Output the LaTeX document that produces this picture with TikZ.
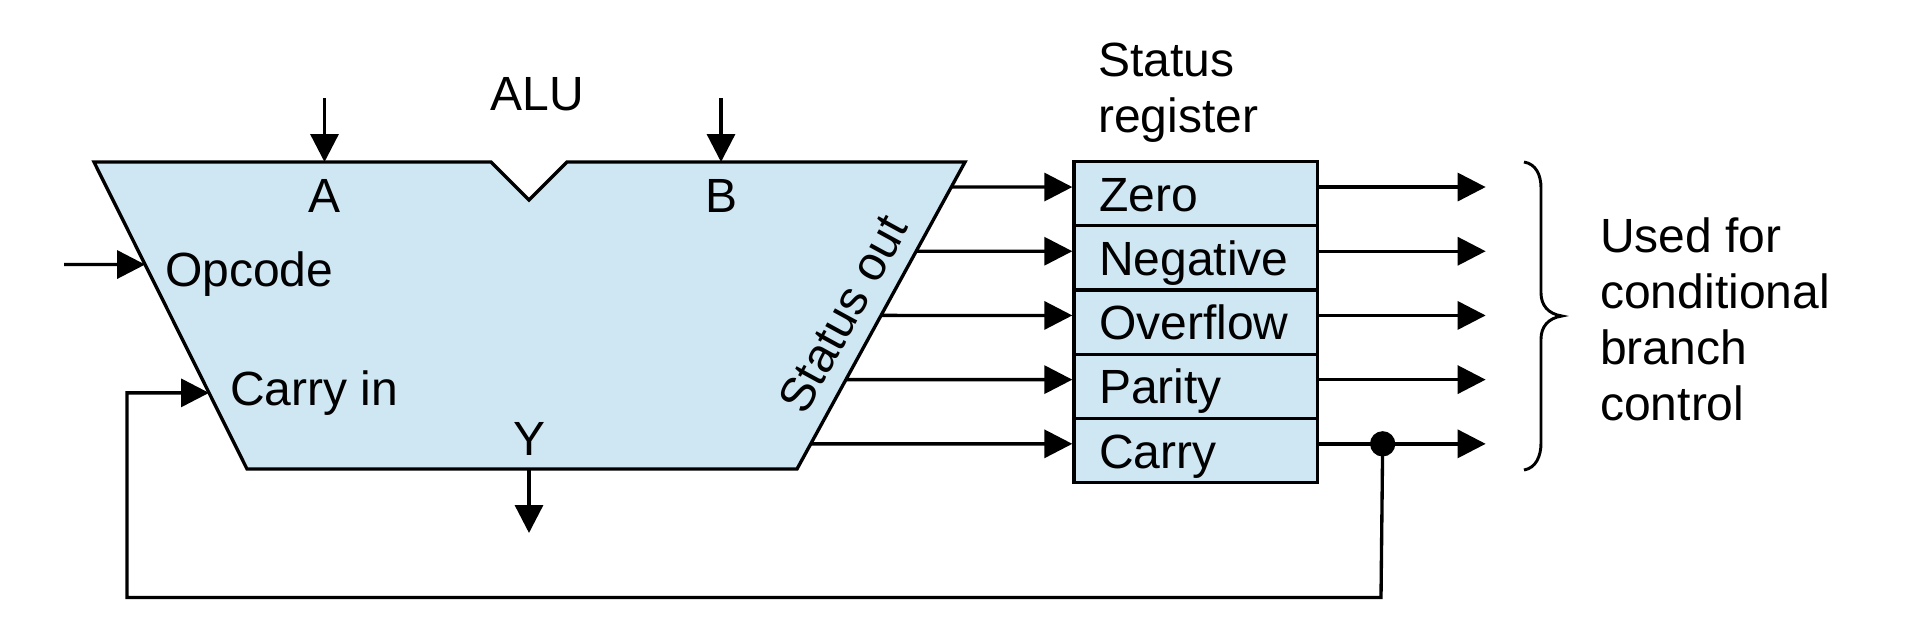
\documentclass[tikz,border=0pt]{standalone}
\usepackage{fontspec}
\setmainfont{Liberation Sans}
\usetikzlibrary{arrows.meta,calc}
\definecolor{alufill}{RGB}{207,230,243}
\begin{document}
\begin{tikzpicture}[x=0.75pt,y=-0.75pt,
  wire/.style={line width=2.5pt},
  sig/.style={wire,-{Triangle[length=21pt,width=21pt]}},
  lbl/.style={font=\fontsize{36pt}{42pt}\selectfont, inner sep=0pt},
  regcell/.style={draw, line width=2.5pt, fill=alufill,
    minimum width=182.7pt, minimum height=48.15pt,
    inner xsep=18.75pt, inner ysep=0pt, text width=145.2pt, align=left,
    text height=26.3pt, text depth=0pt,
    font=\fontsize{36pt}{42pt}\selectfont},
  dotnode/.style={circle, fill=black, inner sep=0pt, minimum size=19pt}
]
\useasboundingbox (0,0) rectangle (1920,640);

% ALU outline with the notch between the two operand inputs
\coordinate (tl) at (94,162);
\coordinate (n1) at (491,162);
\coordinate (nb) at (529,200);
\coordinate (n2) at (567,162);
\coordinate (tr) at (965,162);
\coordinate (br) at (797,469);
\coordinate (bl) at (247,469);
\draw[wire, fill=alufill, line join=miter]
  (tl) -- (n1) -- (nb) -- (n2) -- (tr) -- (br) -- (bl) -- cycle;

% operand, opcode and result connections
\coordinate (ain) at (324.5,98);
\coordinate (atop) at (324.5,162);
\coordinate (bin) at (721,98);
\coordinate (btop) at (721,162);
\coordinate (opin) at (64,264.5);
\coordinate (opslant) at ($(tl)!0.334!(bl)$);
\coordinate (cinslant) at ($(tl)!0.752!(bl)$);
\coordinate (ybot) at (529,469);
\coordinate (yout) at (529,533);
\draw[sig] (ain) -- (atop);
\draw[sig] (bin) -- (btop);
\draw[sig] (opin) -- (opslant);
\draw[sig] (ybot) -- (yout);

% ALU labels
\node[lbl, anchor=base] (alu) at (537,110.7) {ALU};
\node[lbl, anchor=base] (la) at (324.5,212.7) {A};
\node[lbl, anchor=base] (lb) at (721,212.7) {B};
\node[lbl, anchor=base west] (lop) at (165,286.7) {Opcode};
\node[lbl, anchor=base west] (lcin) at (230,405) {Carry in};
\node[lbl, anchor=base] (ly) at (530,455.7) {Y};
\node[lbl, rotate=61.3] (lstat) at (843,314) {Status out};

% status register cells, their inputs and outputs
\foreach \nm/\lab/\yc/\f [count=\i] in {
    zero/Zero/193.7/0.0814,
    neg/Negative/257.9/0.2906,
    ovf/Overflow/322.1/0.4997,
    par/Parity/386.3/0.7088,
    car/Carry/450.5/0.918} {
  \node[regcell] (\nm) at (1195.8,\yc) {\lab};
  \draw[sig] ($(tr)!\f!(br)$) -- ([yshift=5pt]\nm.west);
  \path ([yshift=5pt]\nm.east) ++(166.4,0) coordinate (out\i);
  \draw[sig] ([yshift=5pt]\nm.east) -- (out\i);
}

\node[lbl, anchor=base west] (sreg) at (1098,76)
  {\vtop{\hbox{Status}\hbox{register}}};

% carry feedback into the ALU
\node[dotnode] (dot) at ($([yshift=5pt]car.east)+(63.4,0)$) {};
\coordinate (fbr) at (1381,597.5);
\coordinate (fbl) at (127,597.5);
\draw[sig] (dot.center) -- (fbr) -- (fbl) -- (fbl |- cinslant) -- (cinslant);

% brace and note
\draw[line width=2.2pt]
  (1524,162) .. controls (1536,164) and (1541,175) .. (1541,188)
  -- (1541,293) .. controls (1541,305) and (1548,314) .. (1562,316)
  .. controls (1548,318) and (1541,327) .. (1541,339)
  -- (1541,443) .. controls (1541,456) and (1536,468) .. (1524,470);
\node[lbl, anchor=base west] (note) at (1600,252)
  {\vtop{\hbox{Used for}\hbox{conditional}\hbox{branch}\hbox{control}}};
\end{tikzpicture}
\end{document}
